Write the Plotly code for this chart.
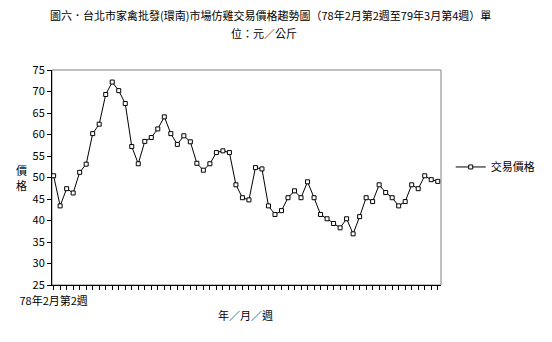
import plotly.graph_objects as go

weeks = list(range(60))
tick_labels = ["78年2月第2週"] + [""] * 59
price = [50.4, 43.4, 47.4, 46.4, 51.2, 53.1, 60.2, 62.4, 69.3, 72.2,
         70.2, 67.2, 57.2, 53.2, 58.4, 59.3, 61.3, 64.1, 60.2, 57.7,
         59.7, 58.3, 53.3, 51.7, 53.2, 55.8, 56.2, 55.8, 48.3, 45.3,
         44.8, 52.3, 52.0, 43.4, 41.4, 42.3, 45.3, 46.9, 45.3, 49.0,
         45.3, 41.4, 40.4, 39.3, 38.3, 40.4, 36.9, 40.9, 45.3, 44.4,
         48.3, 46.5, 45.3, 43.4, 44.4, 48.3, 47.4, 50.4, 49.5, 49.1]
series_name = "交易價格"
title1 = "圖六．台北市家禽批發(環南)市場仿雞交易價格趨勢圖（78年2月第2週至79年3月第4週）單"
title2 = "位：元／公斤"
y_title_chars = ["價", "格"]
x_title = "年／月／週"

FONT = "Noto Sans CJK TC, Liberation Sans, sans-serif"

fig = go.Figure()
fig.add_trace(go.Scatter(
    x=weeks, y=price, mode="lines+markers", name=series_name,
    line=dict(color="black", width=1),
    marker=dict(symbol="square", size=4, color="white",
                line=dict(color="black", width=1)),
))

annotations = [
    dict(text=title1, xref="paper", yref="paper", x=0.562, y=1.256,
         xanchor="center", yanchor="middle", showarrow=False,
         font=dict(size=11)),
    dict(text=title2, xref="paper", yref="paper", x=0.545, y=1.172,
         xanchor="center", yanchor="middle", showarrow=False,
         font=dict(size=11)),
    dict(text=x_title, xref="paper", yref="paper", x=0.4975, y=-0.1395,
         xanchor="center", yanchor="middle", showarrow=False,
         font=dict(size=11)),
]
for ch, yy in zip(y_title_chars, [0.533, 0.463]):
    annotations.append(dict(text=ch, xref="paper", yref="paper", x=-0.078,
                            y=yy, xanchor="center", yanchor="middle",
                            showarrow=False, borderpad=0,
                            font=dict(size=11)))

fig.update_layout(
    width=552, height=342,
    margin=dict(l=52, r=98, t=70, b=57),
    paper_bgcolor="white", plot_bgcolor="white",
    font=dict(family=FONT, size=11, color="black"),
    showlegend=True,
    legend=dict(x=1.025, y=0.549, xanchor="left", yanchor="middle",
                font=dict(size=11), bgcolor="rgba(0,0,0,0)",
                itemwidth=30, tracegroupgap=0),
    xaxis=dict(range=[-0.25, 59.5], tickmode="array", tickvals=weeks,
               ticktext=tick_labels, ticks="outside", ticklen=4,
               tickcolor="black", showline=True, linecolor="black",
               linewidth=1, showgrid=False, zeroline=False,
               tickangle=0, tickfont=dict(size=11), ticklabelstandoff=2),
    yaxis=dict(range=[25, 75], dtick=5, tick0=25, ticks="outside",
               ticklen=4, tickcolor="black", showline=True,
               linecolor="black", linewidth=1, showgrid=False,
               zeroline=False, tickfont=dict(size=11)),
    shapes=[dict(type="rect", xref="paper", yref="paper", x0=0, y0=0,
                 x1=1, y1=1, line=dict(color="#808080", width=1),
                 layer="below")],
    annotations=annotations,
)

fig.write_html("out.html")
